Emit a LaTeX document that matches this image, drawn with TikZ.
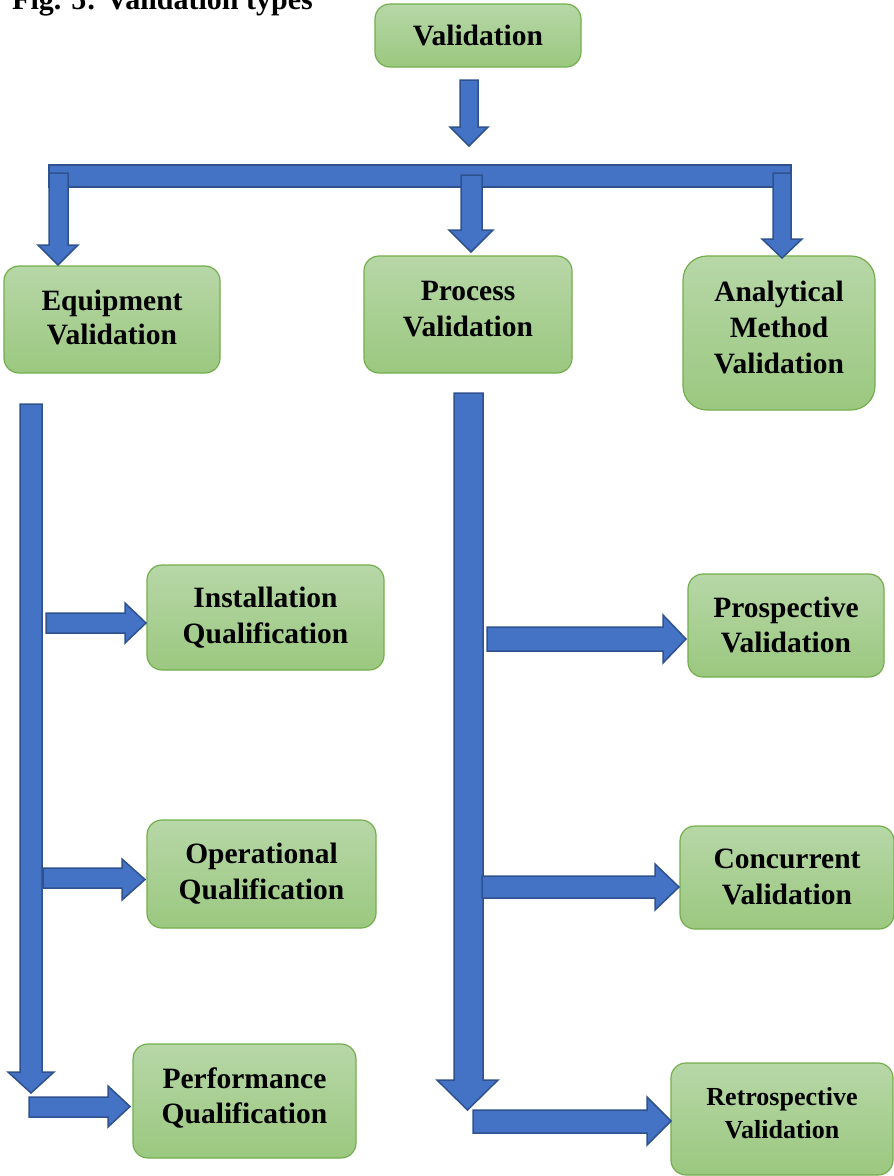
\documentclass[tikz,border=0pt]{standalone}
\usepackage{fontspec}
\setmainfont{Liberation Serif}
\definecolor{boxtop}{RGB}{183,215,167}
\definecolor{boxbot}{RGB}{155,200,128}
\definecolor{boxline}{RGB}{116,174,76}
\definecolor{arrfill}{RGB}{68,114,196}
\definecolor{arrline}{RGB}{47,82,143}
\tikzset{
  box/.style={draw=boxline, line width=1.2pt, top color=boxtop, bottom color=boxbot,
    rounded corners=15pt, inner sep=0pt, outer sep=0pt},
  txt/.style={anchor=base, inner sep=0pt, font=\fontsize{29.5}{34.5}\selectfont\bfseries, text=black},
  txtsm/.style={txt, font=\fontsize{26}{33}\selectfont\bfseries},
  blk/.style={fill=arrfill, draw=arrline, line width=1.5pt, line join=miter}
}
\newcommand{\darr}[7]{% xs1 xs2 xh1 xh2 ytop yh ytip
  \draw[blk] (#1,#5) -- (#2,#5) -- (#2,#6) -- (#4,#6) -- ({(#3+#4)/2},#7) -- (#3,#6) -- (#1,#6) -- cycle;}
\newcommand{\rarr}[7]{% xl xh tip ys1 ys2 yh1 yh2
  \draw[blk] (#1,#4) -- (#2,#4) -- (#2,#6) -- (#3,{(#6+#7)/2}) -- (#2,#7) -- (#2,#5) -- (#1,#5) -- cycle;}
\begin{document}
\begin{tikzpicture}[x=1pt,y=-1pt]
\useasboundingbox (0,0) rectangle (894,1176);
\fill[white] (0,0) rectangle (894,1176);
% caption (cut off at the top, as in the reference)
\node[anchor=base west, inner sep=0pt, font=\fontsize{30}{34}\selectfont\bfseries] (cap) at (12,9) {Fig. 5: Validation types};
% boxes
\node[box, minimum width=206pt, minimum height=63pt] (val) at (478,35.5) {};
\node[txt] (val-1) at (478,45) {Validation};
\node[box, minimum width=216pt, minimum height=107pt] (equip) at (112,319.5) {};
\node[txt] (equip-1) at (112,310) {Equipment};
\node[txt] (equip-2) at (112,344) {Validation};
\node[box, minimum width=208pt, minimum height=117pt] (proc) at (468,314.5) {};
\node[txt] (proc-1) at (468,300) {Process};
\node[txt] (proc-2) at (468,336) {Validation};
\node[box, minimum width=192pt, minimum height=154pt, rounded corners=24pt] (anal) at (779,333) {};
\node[txt] (anal-1) at (779,301) {Analytical};
\node[txt] (anal-2) at (779,337) {Method};
\node[txt] (anal-3) at (779,373) {Validation};
\node[box, minimum width=237pt, minimum height=105pt] (inst) at (265.5,617.5) {};
\node[txt] (inst-1) at (265.5,607) {Installation};
\node[txt] (inst-2) at (265.5,643) {Qualification};
\node[box, minimum width=229pt, minimum height=108pt] (oper) at (261.5,874) {};
\node[txt] (oper-1) at (261.5,863) {Operational};
\node[txt] (oper-2) at (261.5,899) {Qualification};
\node[box, minimum width=223pt, minimum height=114pt] (perf) at (244.5,1101) {};
\node[txt] (perf-1) at (244.5,1088) {Performance};
\node[txt] (perf-2) at (244.5,1123) {Qualification};
\node[box, minimum width=196pt, minimum height=103pt] (prosp) at (786,625.5) {};
\node[txt] (prosp-1) at (786,617) {Prospective};
\node[txt] (prosp-2) at (786,652) {Validation};
\node[box, minimum width=214pt, minimum height=103pt] (conc) at (787,877.5) {};
\node[txt] (conc-1) at (787,868) {Concurrent};
\node[txt] (conc-2) at (787,904) {Validation};
\node[box, minimum width=222pt, minimum height=112pt] (retro) at (782,1119) {};
\node[txtsm] (retro-1) at (782,1105) {Retrospective};
\node[txtsm] (retro-2) at (782,1138) {Validation};
% top arrow
\darr{460}{478}{450}{488}{80}{127}{146}
% horizontal bar
\draw[blk] (49,165) rectangle (791,187);
% three down arrows
\darr{49}{68}{38}{78}{173}{245}{265}
\darr{461}{482}{449}{493}{175}{230}{252}
\darr{773}{791}{762}{802}{173}{239}{258}
% long vertical arrows
\darr{20}{42}{8}{54}{404}{1072}{1093}
\darr{454}{483}{437}{498}{393}{1080}{1110}
% horizontal arrows
\rarr{46}{125}{146}{613}{633}{603}{643}
\rarr{43}{122}{145}{868}{888}{859}{900}
\rarr{29}{108}{130}{1097}{1117}{1086}{1127}
\rarr{487}{663}{686}{627}{651}{615}{663}
\rarr{482}{655}{679}{876}{898}{864}{910}
\rarr{473}{647}{671}{1110}{1133}{1097}{1145}
\end{tikzpicture}
\end{document}
